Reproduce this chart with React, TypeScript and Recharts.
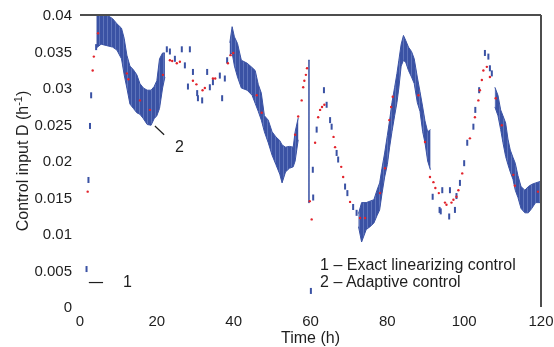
import React from "react";
import {
  Area,
  ComposedChart,
  ReferenceDot,
  ReferenceLine,
  Scatter,
  XAxis,
  YAxis,
} from "recharts";

const BLUE = "#3a52a4";
const RED = "#e2232b";
const INK = "#1e1e1e";
const FRAME = "#4d4d4d";
const FONT = '"Liberation Sans", Arial, sans-serif';

const TIME_TICKS = [0, 20, 40, 60, 80, 100, 120];
const D_TICKS = [0, 0.005, 0.01, 0.015, 0.02, 0.025, 0.03, 0.035, 0.04];

// adaptive control (2): dense, jittery stretches as [time, low, high]
const BAND_A = [
  [4.3, 0.0355, 0.04], [5.5, 0.036, 0.04], [7, 0.0358, 0.04], [8.5, 0.0356, 0.0395],
  [9.6, 0.0352, 0.0388], [10.8, 0.034, 0.0382], [11.5, 0.0318, 0.0368], [12.2, 0.03, 0.0345],
  [13, 0.0278, 0.033], [13.9, 0.0272, 0.0325], [14.8, 0.0266, 0.0318], [15.6, 0.0264, 0.0306],
  [16.5, 0.0258, 0.03], [17.5, 0.025, 0.0297], [18.5, 0.0249, 0.0297], [19.3, 0.0258, 0.0302],
  [20, 0.0262, 0.031], [20.7, 0.0272, 0.034], [21.5, 0.03, 0.0348], [22.1, 0.0315, 0.0348],
];
const BAND_B = [
  [39, 0.0345, 0.0362], [39.6, 0.0348, 0.0384], [40.2, 0.033, 0.037], [41, 0.0315, 0.0361],
  [42, 0.03, 0.0338], [43.5, 0.0297, 0.0334], [44.8, 0.029, 0.0328], [45.6, 0.0279, 0.0324],
  [46.4, 0.0268, 0.0305], [47.2, 0.0256, 0.0293], [48, 0.024, 0.0262], [49, 0.0225, 0.0256],
  [50, 0.0208, 0.024], [51, 0.0195, 0.0233], [52, 0.0182, 0.0228], [52.6, 0.017, 0.0222],
  [53.5, 0.0185, 0.0219], [54.5, 0.019, 0.022], [55.5, 0.0192, 0.0219], [56, 0.02, 0.024],
  [56.8, 0.0229, 0.0259],
];
const SPIKE = [[59.4, 0.0143, 0.0338], [59.8, 0.0143, 0.0338]];
const BAND_C = [
  [72.5, 0.011, 0.0128], [73.3, 0.0089, 0.0143], [74.5, 0.0106, 0.0143], [75.5, 0.011, 0.0145],
  [76.5, 0.0115, 0.0147], [77.3, 0.0125, 0.016], [78, 0.0133, 0.017], [78.6, 0.0155, 0.019],
  [79.3, 0.0178, 0.0211], [80, 0.0195, 0.0235], [80.6, 0.0219, 0.0256], [81.2, 0.024, 0.028],
  [81.9, 0.0262, 0.0301], [82.5, 0.028, 0.032], [83, 0.03, 0.0338], [83.6, 0.033, 0.036],
  [84.2, 0.0338, 0.0372], [84.8, 0.0335, 0.0365], [85.5, 0.0324, 0.0356], [86.3, 0.0315, 0.035],
  [87, 0.0306, 0.034], [87.8, 0.028, 0.0315], [88.5, 0.0268, 0.0295], [89.2, 0.024, 0.0274],
  [89.8, 0.0225, 0.0255], [90.5, 0.02, 0.024], [91.2, 0.0188, 0.0243],
];
const BAND_D = [
  [108, 0.0274, 0.0301], [108.8, 0.0262, 0.029], [109.5, 0.0243, 0.027], [110.1, 0.0225, 0.0262],
  [110.8, 0.0206, 0.0252], [111.4, 0.0195, 0.023], [112, 0.0185, 0.0215], [112.7, 0.0175, 0.0205],
  [113.3, 0.016, 0.0197], [114, 0.015, 0.018], [114.8, 0.0135, 0.0165], [115.8, 0.0129, 0.016],
  [116.7, 0.0129, 0.0165], [117.6, 0.0135, 0.0168], [118.6, 0.0143, 0.017], [119.8, 0.0143, 0.0172],
];

// adaptive control (2): isolated samples between the dense stretches
const ADAPTIVE_SPARSE = [
  [1.7, 0.0052], [2.2, 0.0174], [2.6, 0.0248], [2.9, 0.029], [4.2, 0.0356],
  [22.6, 0.0353], [23.4, 0.035], [24.7, 0.034], [26.5, 0.0353], [27.3, 0.0331], [28.1, 0.0302],
  [28.6, 0.0353], [29.4, 0.0322], [30.5, 0.0293], [30.7, 0.0286], [31.8, 0.0283], [33.1, 0.0322],
  [33.8, 0.0301], [34.6, 0.0308], [36.4, 0.0317], [37, 0.0286], [37.7, 0.0313], [38.3, 0.0338],
  [60.1, 0.0022], [60.6, 0.0188], [60.7, 0.015], [61.6, 0.0243], [63.5, 0.0297], [64.2, 0.0277],
  [65.1, 0.0256], [65.5, 0.0247], [66.8, 0.0211], [67.2, 0.0202], [69, 0.0165], [69.6, 0.0156],
  [71.1, 0.0137], [72, 0.0129],
  [91.8, 0.0151], [93.6, 0.0133], [93.9, 0.0131], [94.3, 0.016], [96.1, 0.0124], [96.3, 0.016],
  [97.6, 0.0133], [98, 0.0152], [98.9, 0.017], [100, 0.0197], [100.8, 0.0225], [102.4, 0.0247],
  [102.9, 0.027], [103.9, 0.0297], [105.4, 0.0348], [106.3, 0.0343], [106.7, 0.0327], [107.2, 0.032],
];

// exact linearizing control (1)
const EXACT = [
  [2, 0.0158], [3.3, 0.0324], [3.6, 0.0343], [4.7, 0.0375], [12.2, 0.032], [12.6, 0.0312],
  [15.6, 0.0283], [18.2, 0.027], [21.6, 0.0318], [23.4, 0.0338], [24, 0.0337], [25.2, 0.0334],
  [26, 0.0336], [29.4, 0.031], [30.3, 0.0305], [31.9, 0.0297], [32.5, 0.03], [34.6, 0.0313],
  [35.2, 0.0313], [38.5, 0.0334], [39.2, 0.0345], [39.9, 0.0348], [46, 0.029], [47.3, 0.0266],
  [56, 0.0236], [56.8, 0.0261], [57.7, 0.0283], [58.1, 0.0301], [58.4, 0.031], [58.8, 0.0318],
  [59.1, 0.0327], [59.8, 0.0145], [60.3, 0.012], [61.2, 0.0225], [62, 0.026], [62.5, 0.027],
  [63, 0.0274], [63.6, 0.0277], [66, 0.0233], [66.4, 0.0219], [68, 0.0192], [68.5, 0.0178],
  [70.3, 0.0144], [72.9, 0.0122], [74.2, 0.0122], [78.1, 0.0156], [79.4, 0.019], [80.5, 0.0256],
  [81, 0.0274], [81.4, 0.0288], [88.1, 0.029], [89.8, 0.0226], [91.1, 0.0178], [92, 0.0171],
  [92.5, 0.0163], [93.4, 0.0156], [95, 0.0143], [95.4, 0.014], [96.7, 0.0143], [97.2, 0.0147],
  [98, 0.0151], [98.5, 0.016], [99.5, 0.0183], [101.5, 0.0231], [102.8, 0.026], [103.7, 0.0283],
  [104.1, 0.0297], [104.6, 0.0311], [105, 0.0324], [105.9, 0.0329], [106.7, 0.0315],
  [108.2, 0.0286], [109.8, 0.0249], [112.8, 0.0181], [113.2, 0.0166], [119.2, 0.0158],
];

const bandRows: { t: number; lo: number | null; hi: number | null }[] = [];
[BAND_A, BAND_B, SPIKE, BAND_C, BAND_D].forEach((seg, i) => {
  if (i > 0) bandRows.push({ t: seg[0][0] - 0.02, lo: null, hi: null });
  seg.forEach(([t, lo, hi]) => bandRows.push({ t, lo, hi }));
});
const sparseRows = ADAPTIVE_SPARSE.map(([t, y]) => ({ t, y }));
const exactRows = EXACT.map(([t, y]) => ({ t, y }));

const Dash = (p: any) => <rect x={p.cx - 1} y={p.cy - 3} width={2} height={6} fill={BLUE} />;
const RedDot = (p: any) => <circle cx={p.cx} cy={p.cy} r={1.2} fill={RED} />;

const noteLabel = (text: string) => ({
  content: (p: any) => (
    <text
      x={p.viewBox.x}
      y={p.viewBox.y + (p.viewBox.height || 0) / 2}
      fill={INK}
      fontSize={16}
      fontFamily={FONT}
    >
      {text}
    </text>
  ),
});

export default function App() {
  return (
    <div style={{ position: "fixed", left: 0, top: 0, width: 554, height: 347 }}>
      <ComposedChart
        width={554}
        height={347}
        data={bandRows}
        margin={{ top: 15, right: 13, left: 8, bottom: 9 }}
      >
        <defs>
          <pattern id="jitter" width={4} height={6} patternUnits="userSpaceOnUse">
            <rect width={4} height={6} fill={BLUE} />
            <rect x={3} width={1} height={6} fill="#5e74bb" />
          </pattern>
        </defs>
        <XAxis
          dataKey="t"
          type="number"
          domain={[0, 120]}
          ticks={TIME_TICKS}
          axisLine={false}
          tickLine={false}
          height={31}
          interval={0}
          tick={{ fill: INK, fontSize: 15, fontFamily: FONT }}
          label={{
            content: (p: any) => (
              <text
                x={p.viewBox.x + p.viewBox.width / 2}
                y={p.viewBox.y + 35.5}
                textAnchor="middle"
                fill={INK}
                fontSize={16}
                fontFamily={FONT}
              >
                Time (h)
              </text>
            ),
          }}
        />
        <YAxis
          type="number"
          domain={[0, 0.04]}
          ticks={D_TICKS}
          allowDataOverflow
          axisLine={false}
          tickLine={false}
          width={72}
          interval={0}
          tick={{ fill: INK, fontSize: 15, fontFamily: FONT }}
          label={{
            content: (p: any) => {
              const x = 27.5;
              const y = p.viewBox.y + p.viewBox.height / 2;
              return (
                <text
                  x={x}
                  y={y}
                  transform={`rotate(-90 ${x} ${y})`}
                  textAnchor="middle"
                  fill={INK}
                  fontSize={16}
                  fontFamily={FONT}
                >
                  <tspan>Control input D (h</tspan>
                  <tspan dy={-6} fontSize={11}>-1</tspan>
                  <tspan dy={6}>)</tspan>
                </text>
              );
            },
          }}
        />
        <ReferenceLine y={0.04} stroke={FRAME} strokeWidth={2} />
        <ReferenceLine x={120} stroke={FRAME} strokeWidth={2} />
        <Area
          dataKey={(d: any) => (d.lo == null ? null : [d.lo, d.hi])}
          type="linear"
          stroke={BLUE}
          strokeWidth={1}
          fill="url(#jitter)"
          fillOpacity={1}
          connectNulls={false}
          dot={false}
          activeDot={false}
          isAnimationActive={false}
        />
        <Scatter data={sparseRows} dataKey="y" shape={Dash} isAnimationActive={false} />
        <Scatter data={exactRows} dataKey="y" shape={RedDot} isAnimationActive={false} />
        <ReferenceLine
          segment={[{ x: 2.3, y: 0.00335 }, { x: 6, y: 0.00335 }]}
          stroke={INK}
          strokeWidth={1.2}
        />
        <ReferenceLine
          segment={[{ x: 19.5, y: 0.0248 }, { x: 21.9, y: 0.0236 }]}
          stroke={INK}
          strokeWidth={1.2}
        />
        <ReferenceDot x={11.2} y={0.0027} r={0.01} fill="none" stroke="none" label={noteLabel("1")} />
        <ReferenceDot x={24.7} y={0.0212} r={0.01} fill="none" stroke="none" label={noteLabel("2")} />
        <ReferenceDot
          x={62.5}
          y={0.0051}
          r={0.01}
          fill="none"
          stroke="none"
          label={noteLabel("1 \u2013 Exact linearizing control")}
        />
        <ReferenceDot
          x={62.5}
          y={0.0027}
          r={0.01}
          fill="none"
          stroke="none"
          label={noteLabel("2 \u2013 Adaptive control")}
        />
      </ComposedChart>
    </div>
  );
}
